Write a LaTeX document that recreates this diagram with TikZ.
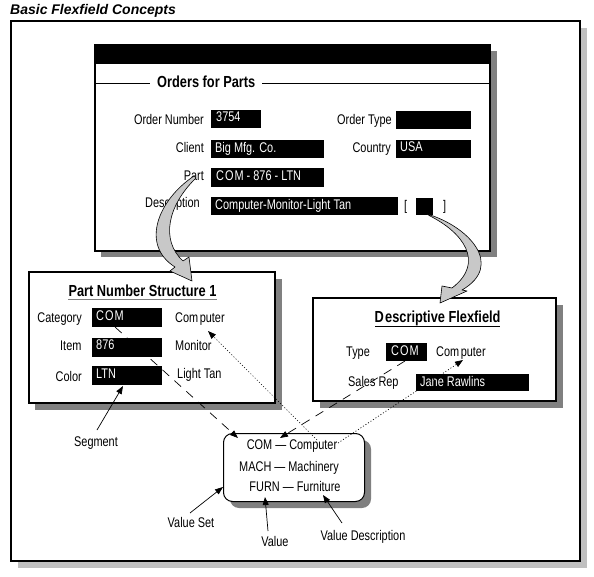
\documentclass[tikz,border=0pt]{standalone}
\usepackage{fontspec}
\setmainfont{Liberation Sans}
\newfontfamily\nf{Liberation Sans}[FakeStretch=0.78]
\newfontfamily\nfb{Liberation Sans}[FakeStretch=0.80]
\usetikzlibrary{arrows.meta}
\definecolor{shadowlt}{HTML}{C0C0C0}
\definecolor{shadowdk}{HTML}{808080}
\definecolor{arrowgray}{HTML}{C8C8C8}
\begin{document}
\begin{tikzpicture}[x=1pt,y=-1pt,
  lbl/.style={font=\nf\fontsize{14}{16}\selectfont, inner sep=0pt},
  ftxt/.style={lbl, text=white, anchor=base west},
  fld/.style={fill=black, inner sep=0pt, anchor=north west},
  ttl/.style={font=\nfb\bfseries\fontsize{16}{19}\selectfont, inner sep=0pt, anchor=base},
  boxline/.style={draw=black, line width=1.2pt, fill=white},
  conn/.style={draw, line width=0.7pt, -{Triangle[length=8pt,width=6pt]}},
  dashc/.style={conn, dash pattern=on 9pt off 7pt},
  dotc/.style={conn, dash pattern=on 1pt off 2pt},
  bigarrow/.style={fill=arrowgray, draw=black, line width=0.6pt, line join=round}
]
\useasboundingbox (0,0) rectangle (594,577);
\fill[white] (0,0) rectangle (594,577);

% title
\node[font=\bfseries\itshape\fontsize{14}{16}\selectfont, anchor=base west, inner sep=0pt] (title) at (10,15) {Basic Flexfield Concepts};

% outer frame
\fill[shadowlt] (18,28) rectangle (587,568);
\draw[line width=1.6pt, fill=white] (11,21) rectangle (580,561);

% ---------------- Orders window
\fill[shadowdk] (101,51) rectangle (497,257);
\draw[boxline] (95,45) rectangle (490,251);
\fill[black] (95,45) rectangle (490,64);
\draw[line width=0.8pt] (95,83) -- (150,83);
\draw[line width=0.8pt] (262,83) -- (489,83);
\node[ttl, anchor=base west] (tOrders) at (157,88) {Orders for Parts};

\node[lbl, anchor=base east] (lOrdNum) at (204,125) {Order Number};
\node[fld, minimum width=50pt, minimum height=18pt] (fOrdNum) at (211,110) {};
\node[ftxt] (vOrdNum) at (216,122) {3754};

\node[lbl, anchor=base east] (lOrdType) at (392,125) {Order Type};
\node[fld, minimum width=75pt, minimum height=18pt] (fOrdType) at (396,111) {};

\node[lbl, anchor=base east] (lClient) at (204,153) {Client};
\node[fld, minimum width=113pt, minimum height=18pt] (fClient) at (211,140) {};
\node[ftxt] (vClient) at (215,153) {Big Mfg. Co.};

\node[lbl, anchor=base east] (lCountry) at (391,153) {Country};
\node[fld, minimum width=75pt, minimum height=18pt] (fCountry) at (396,140) {};
\node[ftxt] (vCountry) at (400,152) {USA};

\node[lbl, anchor=base east] (lPart) at (204,181) {Part};
\node[fld, minimum width=113pt, minimum height=19pt] (fPart) at (211,168) {};
\node[ftxt] (vPart) at (216,181) {C\kern1ptO\kern1ptM - 876 - LTN};

\node[lbl, anchor=base east] (lDesc) at (200,208) {Description};
\node[fld, minimum width=187pt, minimum height=18pt] (fDesc) at (211,197) {};
\node[ftxt] (vDesc) at (215,210) {Computer-Monitor-Light Tan};
\node[lbl, anchor=base west] (lbr) at (404,211) {[};
\node[fld, minimum width=17pt, minimum height=17pt] (fDff) at (416,198) {};
\node[lbl, anchor=base west] (rbr) at (443,211) {]};

% ---------------- Part Number Structure box
\fill[shadowdk] (35,279) rectangle (282,410);
\draw[boxline] (29,272) rectangle (275,403);
\node[ttl] (tPart) at (142.5,297) {Part Number Structure 1};
\draw[shadowdk, line width=1pt] (68,299.5) -- (217,299.5);

\node[lbl, anchor=base east] (lCat) at (82,322) {Category};
\node[fld, minimum width=70pt, minimum height=19pt] (fCat) at (92,308) {};
\node[ftxt] (vCat) at (96,320) {C\kern1ptO\kern1ptM};
\node[lbl, anchor=base west] (dCat) at (175,322) {Com\kern1.5ptputer};

\node[lbl, anchor=base west] (lItem) at (60,350) {Item};
\node[fld, minimum width=70pt, minimum height=19pt] (fItem) at (92,338) {};
\node[ftxt] (vItem) at (96,349) {876};
\node[lbl, anchor=base west] (dItem) at (175,350) {Monitor};

\node[lbl, anchor=base east] (lColor) at (82,381) {Color};
\node[fld, minimum width=70pt, minimum height=19pt] (fColor) at (92,366) {};
\node[ftxt] (vColor) at (96,378) {LTN};
\node[lbl, anchor=base west] (dColor) at (177,378) {Light Tan};

% ---------------- Descriptive Flexfield box
\fill[shadowdk] (320,305) rectangle (563,408);
\draw[boxline] (313,298) rectangle (556,401);
\node[ttl] (tDesc) at (437.5,322) {D\kern1.5ptescriptive Flexfield};
\draw[line width=1pt] (375,326.5) -- (500,326.5);

\node[lbl, anchor=base west] (lType) at (346,356) {Type};
\node[fld, minimum width=41pt, minimum height=18pt] (fType) at (386,343) {};
\node[ftxt] (vType) at (391,355) {C\kern1ptO\kern1ptM};
\node[lbl, anchor=base west] (dType) at (436,356) {Com\kern1.5ptputer};

\node[lbl, anchor=base west] (lRep) at (348,386) {Sales Rep};
\node[fld, minimum width=113pt, minimum height=17pt] (fRep) at (416,374) {};
\node[ftxt] (vRep) at (420,386) {Jane Rawlins};

% ---------------- Value set box
\fill[shadowdk, rounded corners=9pt] (230,440) rectangle (371,508);
\node[draw=black, line width=1pt, fill=white, rounded corners=9pt, minimum width=141pt, minimum height=68pt, anchor=north west, inner sep=0pt] (vbox) at (223,433) {};
\node[lbl, anchor=base] (vs1) at (292,449) {COM \textemdash\ Computer};
\node[lbl, anchor=base] (vs2) at (289,471) {MACH \textemdash\ Machinery};
\node[lbl, anchor=base] (vs3) at (295,491) {FURN \textemdash\ Furniture};

% ---------------- captions
\node[lbl, anchor=base] (cSeg) at (96,446) {Segment};
\node[lbl, anchor=base] (cVS) at (191,527) {Value Set};
\node[lbl, anchor=base] (cVal) at (275,546) {Value};
\node[lbl, anchor=base] (cVD) at (363,540) {Value Description};

% ---------------- connector end points
\coordinate (pCatS) at (115,327);
\coordinate (pVCom) at (238,438);
\coordinate (pVComp) at (317,440);
\coordinate (pPComp) at (208,331);
\coordinate (pTypeS) at (405,361);
\coordinate (pVDash) at (280,438);
\coordinate (pVCompR) at (338,443);
\coordinate (pDComp) at (463,360);
\coordinate (pSegT) at (97,430);
\coordinate (pSegH) at (123,386);
\coordinate (pVST) at (190,513);
\coordinate (pVSH) at (223,487);
\coordinate (pValT) at (268,531);
\coordinate (pValH) at (265,497);
\coordinate (pVDT) at (342,523);
\coordinate (pVDH) at (323,495);

\draw[dashc] (pCatS) -- (pVCom);
\draw[dotc] (pVComp) -- (pPComp);
\draw[dashc] (pTypeS) -- (pVDash);
\draw[dotc] (pVCompR) -- (pDComp);
\draw[conn] (pSegT) -- (pSegH);
\draw[conn] (pVST) -- (pVSH);
\draw[conn] (pValT) -- (pValH);
\draw[conn] (pVDT) -- (pVDH);

% ---------------- big curved arrows
\path[bigarrow] (194,176) .. controls (158,200) and (140,245) .. (175,267) -- (170,271) -- (192,281) -- (189,257) -- (183,261) .. controls (160,240) and (168,205) .. (196,178) -- cycle;
\path[bigarrow] (427,214) .. controls (468,226) and (505,265) .. (462,290) -- (467,291) -- (440,303) -- (442,286) -- (452,288) .. controls (486,262) and (462,232) .. (430,216) -- cycle;
\end{tikzpicture}
\end{document}
